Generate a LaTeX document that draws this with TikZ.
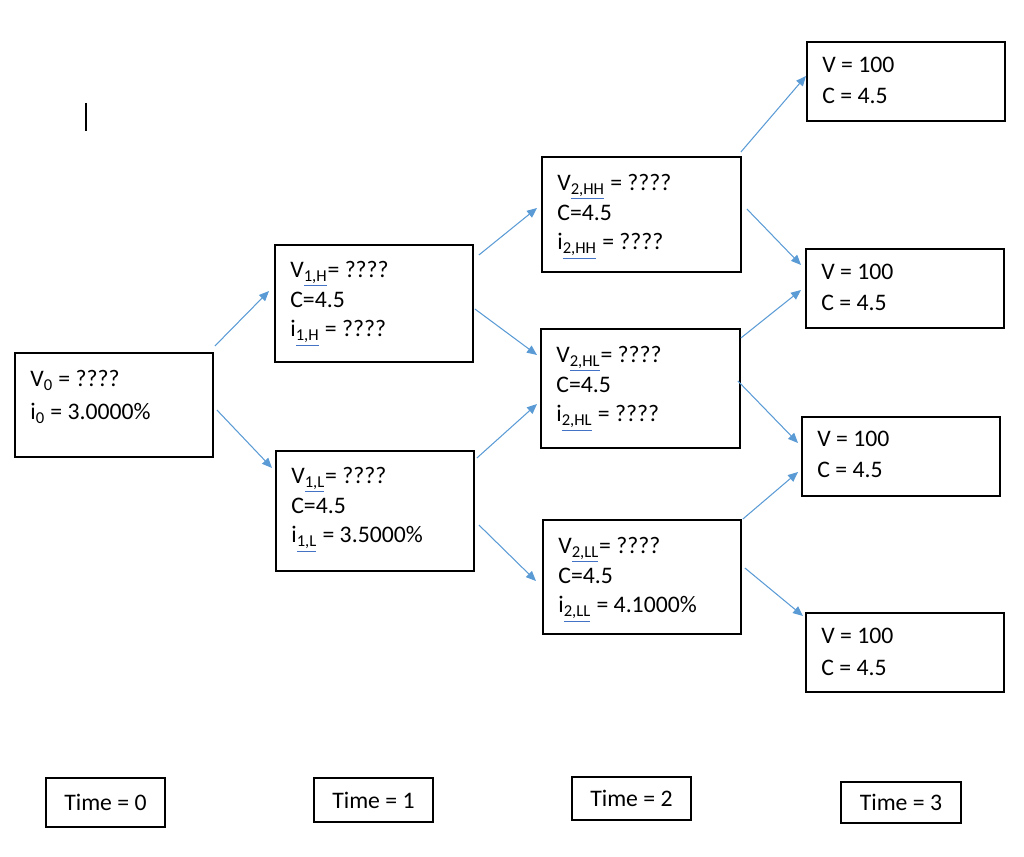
\documentclass[tikz,border=0pt]{standalone}
\usepackage{fontspec}
\setmainfont{Carlito}
\usetikzlibrary{arrows.meta,positioning,calc}
\definecolor{arrowblue}{HTML}{5B9BD5}
\definecolor{checkblue}{HTML}{4472C4}

% subscript with the blue spell-check underline
\newcommand{\chk}[1]{\textsubscript{{\color{checkblue}\underline{\textcolor{black}{#1}}}}}

\begin{document}
\begin{tikzpicture}[x=0.02cm,y=-0.02cm]

  % Set default styles
  \tikzset{
    every node/.style={font=\fontsize{13.5}{17}\selectfont},
    box/.style={draw=black, line width=1.1pt, anchor=north west, inner sep=0pt,
      minimum width=3.96cm},
    timebox/.style={draw=black, line width=1.1pt, anchor=north west, inner sep=0pt,
      minimum width=2.38cm},
    boxtext/.style={anchor=base west, align=left, inner sep=0pt},
    link/.style={draw=arrowblue, line width=0.6pt,
      -{Triangle[length=0.2cm,width=0.17cm]}}
  }

  \useasboundingbox (0,0) rectangle (1024,857);

  % Cursor mark
  \draw[line width=1pt] (86,103) -- (86,131);

  % Time 0 (text placed by the baseline of its last line)
  \node[box, minimum height=2.08cm] (v0) at (14,352) {};
  \node[boxtext, font=\fontsize{13.5}{19}\selectfont] (v0_text)
    at ([shift={(16,68)}]v0.north west) {V\textsubscript{0} = ????\\i\textsubscript{0} = 3.0000\%};

  % Time 1
  \node[box, minimum height=2.34cm] (v1_h) at (274,244) {};
  \node[boxtext] (v1_h_text) at ([shift={(16,93)}]v1_h.north west)
    {V\chk{1,H}= ????\\C=4.5\\i\chk{1,H} = ????};

  \node[box, minimum height=2.4cm] (v1_l) at (275,450) {};
  \node[boxtext] (v1_l_text) at ([shift={(16,93)}]v1_l.north west)
    {V\chk{1,L}= ????\\C=4.5\\i\chk{1,L} = 3.5000\%};

  % Time 2
  \node[box, minimum width=3.98cm, minimum height=2.3cm] (v2_hh) at (541,156) {};
  \node[boxtext] (v2_hh_text) at ([shift={(16,94)}]v2_hh.north west)
    {V\chk{2,HH} = ????\\C=4.5\\i\chk{2,HH} = ????};

  \node[box, minimum width=3.98cm, minimum height=2.38cm] (v2_hl) at (540,328) {};
  \node[boxtext] (v2_hl_text) at ([shift={(16,94)}]v2_hl.north west)
    {V\chk{2,HL}= ????\\C=4.5\\i\chk{2,HL} = ????};

  \node[box, minimum height=2.28cm] (v2_ll) at (542,519) {};
  \node[boxtext] (v2_ll_text) at ([shift={(16,94)}]v2_ll.north west)
    {V\chk{2,LL}= ????\\C=4.5\\i\chk{2,LL} = 4.1000\%};

  % Time 3
  \node[box, minimum height=1.58cm] (t3_a) at (806,41) {};
  \node[boxtext, font=\fontsize{13.5}{18.2}\selectfont] (t3_a_text)
    at ([shift={(16,63)}]t3_a.north west) {V = 100\\C = 4.5};

  \node[box, minimum height=1.58cm] (t3_b) at (805,248) {};
  \node[boxtext, font=\fontsize{13.5}{18.2}\selectfont] (t3_b_text)
    at ([shift={(16,63)}]t3_b.north west) {V = 100\\C = 4.5};

  \node[box, minimum height=1.58cm] (t3_c) at (801,416) {};
  \node[boxtext, font=\fontsize{13.5}{18.2}\selectfont] (t3_c_text)
    at ([shift={(16,62)}]t3_c.north west) {V = 100\\C = 4.5};

  \node[box, minimum height=1.58cm] (t3_d) at (805,612) {};
  \node[boxtext, font=\fontsize{13.5}{18.2}\selectfont] (t3_d_text)
    at ([shift={(16,63)}]t3_d.north west) {V = 100\\C = 4.5};

  % Time labels
  \node[timebox, minimum height=0.98cm] (time0) at (45,777) {Time = 0};
  \node[timebox, minimum height=0.88cm] (time1) at (313,777) {Time = 1};
  \node[timebox, minimum height=0.86cm] (time2) at (571,776) {Time = 2};
  \node[timebox, minimum width=2.4cm, minimum height=0.82cm] (time3) at (840,781) {Time = 3};

  % Branches
  \draw[link] ([shift={(1,-6)}]v0.north east) -- ([shift={(-5,47)}]v1_h.north west);
  \draw[link] ([shift={(3,58)}]v0.north east) -- ([shift={(-3,18)}]v1_l.north west);

  \draw[link] ([shift={(5,11)}]v1_h.north east) -- ([shift={(-4,52)}]v2_hh.north west);
  \draw[link] ([shift={(1,65)}]v1_h.north east) -- ([shift={(-3,27)}]v2_hl.north west);
  \draw[link] ([shift={(2,8)}]v1_l.north east) -- ([shift={(-3,76)}]v2_hl.north west);
  \draw[link] ([shift={(4,75)}]v1_l.north east) -- ([shift={(-6,62)}]v2_ll.north west);

  \draw[link] ([shift={(-1,-4)}]v2_hh.north east) -- ([shift={(0,35)}]t3_a.north west);
  \draw[link] ([shift={(5,53)}]v2_hh.north east) -- ([shift={(-4,17)}]t3_b.north west);
  \draw[link] ([shift={(0,10)}]v2_hl.north east) -- ([shift={(-4,42)}]t3_b.north west);
  \draw[link] ([shift={(-3,53)}]v2_hl.north east) -- ([shift={(-3,27)}]t3_c.north west);
  \draw[link] ([shift={(1,0)}]v2_ll.north east) -- ([shift={(-3,56)}]t3_c.north west);
  \draw[link] ([shift={(3,49)}]v2_ll.north east) -- ([shift={(-2,4)}]t3_d.north west);

\end{tikzpicture}
\end{document}
